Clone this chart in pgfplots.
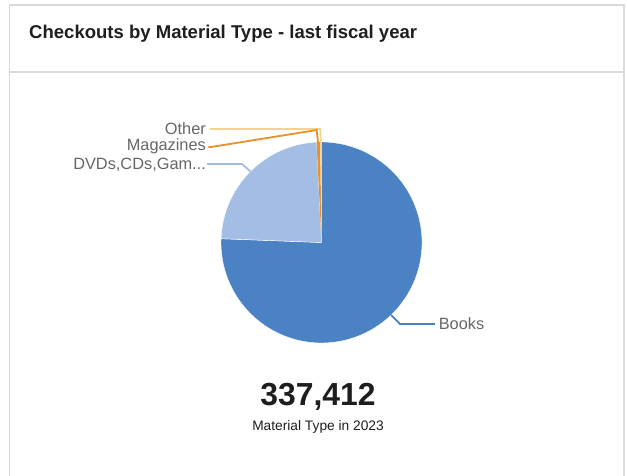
\documentclass[border=0pt]{standalone}
\usepackage{fontspec}
\setmainfont{Liberation Sans}
\usepackage{pgfplots}
\usepackage{pgfplotstable}
\pgfplotsset{compat=1.18}
\definecolor{cBooks}{HTML}{4A82C3}
\definecolor{cDVD}{HTML}{A4BDE4}
\definecolor{cMag}{HTML}{E8912C}
\definecolor{cOther}{HTML}{F3D48C}
\definecolor{lbl}{HTML}{666666}
\definecolor{cardframe}{HTML}{DADADA}
\definecolor{ink}{HTML}{1E1E1E}

\pgfplotstableread{
type value
Books 255100
DVDs 79700
Magazines 1900
Other 712
}\checkouts

\pgfplotstablegetelem{0}{value}\of\checkouts \let\vBooks\pgfplotsretval
\pgfplotstablegetelem{1}{value}\of\checkouts \let\vDVD\pgfplotsretval
\pgfplotstablegetelem{2}{value}\of\checkouts \let\vMag\pgfplotsretval
\pgfplotstablegetelem{3}{value}\of\checkouts \let\vOther\pgfplotsretval
\edef\total{\fpeval{\vBooks+\vDVD+\vMag+\vOther}}
\edef\aA{\fpeval{round(90-360*\vBooks/\total,4)}}
\edef\aB{\fpeval{round(\aA-360*\vDVD/\total,4)}}
\edef\aC{\fpeval{round(\aB-360*\vMag/\total,4)}}
\edef\aD{\fpeval{round(\aC-360*\vOther/\total,4)}}

\begin{document}
\begin{tikzpicture}[x=1bp,y=1bp]
\useasboundingbox (0,0) rectangle (627,476);
\draw[cardframe, line width=1.2bp] (9.5,0) -- (9.5,471) -- (624,471) -- (624,0);
\draw[cardframe, line width=1.2bp] (9.5,404) -- (624,404);
\node[anchor=base west, inner sep=0pt, text=ink, font=\bfseries\fontsize{18.6}{22}\selectfont] at (29,437.8) {Checkouts by Material Type - last fiscal year};

\begin{axis}[at={(321.5bp,233.5bp)}, anchor=origin, x=100.5bp, y=100.5bp,
  xmin=-1.3, xmax=1.3, ymin=-1.3, ymax=1.3, hide axis, clip=false]
  \addplot[fill=cBooks, draw=white, line width=0.4bp, domain=\aA:90, samples=180, variable=\t]
    ({cos(\t)},{sin(\t)}) -- (axis cs:0,0) -- cycle;
  \addplot[fill=cDVD, draw=white, line width=0.4bp, domain=\aB:\aA, samples=60, variable=\t]
    ({cos(\t)},{sin(\t)}) -- (axis cs:0,0) -- cycle;
  \addplot[fill=cMag, draw=none, domain=\aC:\aB, samples=5, variable=\t]
    ({cos(\t)},{sin(\t)}) -- (axis cs:0,0) -- cycle;
  \addplot[fill=cOther, draw=none, domain=\aD:\aC, samples=4, variable=\t]
    ({cos(\t)},{sin(\t)}) -- (axis cs:0,0) -- cycle;
  % leader lines
  \addplot[cOther, line width=1.8bp] coordinates {(-1.109,1.129) (-0.012,1.129) (-0.008,1.0)};
  \addplot[cMag, line width=1.8bp] coordinates {(-1.125,0.950) (-1.10,0.950) (-0.048,1.119) (-0.035,0.995)};
  \addplot[cDVD, line width=1.8bp] coordinates {(-1.139,0.781) (-0.791,0.781) (-0.707,0.707)};
  \addplot[cBooks, line width=1.8bp] coordinates {(0.693,-0.721) (0.781,-0.811) (1.129,-0.811)};
  \node[anchor=east, inner sep=0pt, text=lbl, font=\fontsize{16.4}{19}\selectfont] at (axis cs:-1.149,1.129) {Other};
  \node[anchor=east, inner sep=0pt, text=lbl, font=\fontsize{16.4}{19}\selectfont] at (axis cs:-1.149,0.955) {Magazines};
  \node[anchor=east, inner sep=0pt, text=lbl, font=\fontsize{16.4}{19}\selectfont] at (axis cs:-1.149,0.776) {DVDs,CDs,Gam...};
  \node[anchor=west, inner sep=0pt, text=lbl, font=\fontsize{16.4}{19}\selectfont] at (axis cs:1.165,-0.811) {Books};
\end{axis}

\node[inner sep=0pt, text=ink, font=\bfseries\fontsize{32}{36}\selectfont] at (318,79.5) {337,412};
\node[inner sep=0pt, text=ink, font=\fontsize{13.8}{16}\selectfont] at (318,49) {Material Type in 2023};
\end{tikzpicture}
\end{document}
